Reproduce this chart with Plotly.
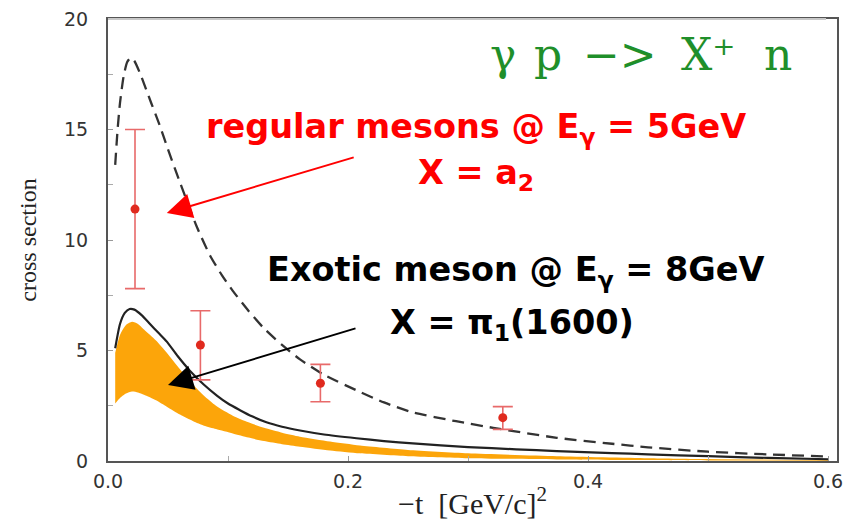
import plotly.graph_objects as go

# ---- data ----
dash_t = [0.006, 0.008, 0.010, 0.013, 0.016, 0.019, 0.022, 0.027, 0.036, 0.043, 0.050,
          0.060, 0.074, 0.085, 0.095, 0.104, 0.117, 0.130, 0.145, 0.160, 0.180,
          0.207, 0.230, 0.254, 0.290, 0.321, 0.374, 0.420, 0.450, 0.500, 0.550, 0.600]
dash_y = [13.4, 15.0, 16.2, 17.4, 18.05, 18.25, 18.1, 17.5, 16.2, 15.2, 14.1,
          12.6, 10.6, 9.3, 8.4, 7.7, 6.8, 6.0, 5.25, 4.6, 3.9,
          3.2, 2.65, 2.2, 1.8, 1.5, 1.05, 0.78, 0.62, 0.42, 0.3, 0.2]

solid_t = [0.006, 0.010, 0.014, 0.018, 0.022, 0.028, 0.035, 0.042, 0.049, 0.058, 0.068,
           0.080, 0.091, 0.100, 0.110, 0.120, 0.132, 0.145, 0.160, 0.180, 0.207,
           0.230, 0.254, 0.300, 0.340, 0.374, 0.420, 0.450, 0.500, 0.550, 0.600]
solid_y = [5.1, 6.2, 6.7, 6.88, 6.85, 6.6, 6.2, 5.8, 5.4, 4.75, 4.1,
           3.45, 2.95, 2.6, 2.3, 2.02, 1.75, 1.55, 1.38, 1.2, 1.03,
           0.9, 0.8, 0.63, 0.53, 0.45, 0.36, 0.3, 0.22, 0.14, 0.08]

band_t = [0.006, 0.010, 0.015, 0.020, 0.025, 0.030, 0.040, 0.049, 0.060, 0.071, 0.080,
          0.090, 0.104, 0.117, 0.130, 0.145, 0.160, 0.185, 0.210, 0.250, 0.300,
          0.374, 0.450, 0.500, 0.600]
band_hi = [4.9, 5.7, 6.15, 6.3, 6.2, 5.95, 5.45, 4.9, 4.15, 3.45, 2.95,
           2.5, 2.05, 1.75, 1.5, 1.28, 1.1, 0.88, 0.7, 0.5, 0.35,
           0.22, 0.13, 0.09, 0.04]
band_lo = [2.6, 2.85, 3.05, 3.14, 3.1, 3.0, 2.75, 2.46, 2.1, 1.8, 1.6,
           1.45, 1.25, 1.06, 0.9, 0.76, 0.65, 0.48, 0.35, 0.22, 0.13,
           0.07, 0.04, 0.025, 0.01]

pt_t = [0.0225, 0.077, 0.177, 0.329]
pt_y = [11.4, 5.25, 3.52, 1.96]
pt_err_plus = [3.6, 1.55, 0.85, 0.5]
pt_err_minus = [3.6, 1.58, 0.84, 0.53]

x_tickvals = [0.0, 0.2, 0.4, 0.6]
x_ticktext = ["0.0", "0.2", "0.4", "0.6"]
y_tickvals = [0, 5, 10, 15, 20]
y_ticktext = ["0", "5", "10", "15", "20"]

# ---- figure ----
fig = go.Figure()

orange = "#fca50a"
fig.add_trace(go.Scatter(x=band_t, y=band_lo, mode="lines", line=dict(width=0, color=orange, shape="spline", smoothing=0.6),
                         hoverinfo="skip", showlegend=False))
fig.add_trace(go.Scatter(x=band_t, y=band_hi, mode="lines", line=dict(width=0, color=orange, shape="spline", smoothing=0.6),
                         fill="tonexty", fillcolor=orange, hoverinfo="skip", showlegend=False))
fig.add_trace(go.Scatter(x=solid_t, y=solid_y, mode="lines",
                         line=dict(color="#222222", width=2.2, shape="spline", smoothing=0.6),
                         showlegend=False))
fig.add_trace(go.Scatter(x=dash_t, y=dash_y, mode="lines",
                         line=dict(color="#333333", width=2.3, dash="12px,7px", shape="spline", smoothing=0.6),
                         showlegend=False))
fig.add_trace(go.Scatter(x=pt_t, y=pt_y, mode="markers",
                         marker=dict(color="#e02a1e", size=9),
                         error_y=dict(type="data", symmetric=False, array=pt_err_plus,
                                      arrayminus=pt_err_minus, color="#e86a6a",
                                      thickness=1.6, width=10),
                         showlegend=False))

L, R, T, B = 108, 15, 19, 67
PW, PH = 852 - L - R, 528 - T - B

def px2x(px):
    return (px - L) / PW

def py2y(py):
    return (528 - B - py) / PH

ann = []
# arrows (data coordinates)
ann.append(dict(x=0.049, y=11.22, ax=0.206, ay=13.76, xref="x", yref="y", axref="x", ayref="y",
                text="", showarrow=True, arrowhead=2, arrowsize=2.5, arrowwidth=2,
                arrowcolor="#ff0000"))
ann.append(dict(x=0.050, y=3.44, ax=0.2075, ay=6.02, xref="x", yref="y", axref="x", ayref="y",
                text="", showarrow=True, arrowhead=2, arrowsize=2.5, arrowwidth=2,
                arrowcolor="#000000"))

bold = dict(family="DejaVu Sans", size=33.5)
ann.append(dict(x=px2x(476), y=py2y(129), xref="paper", yref="paper", showarrow=False,
                xanchor="center", yanchor="middle",
                text="<b>regular mesons @ E<sub>γ</sub> = 5GeV</b>",
                font=dict(bold, color="#ff0000")))
ann.append(dict(x=px2x(476), y=py2y(175), xref="paper", yref="paper", showarrow=False,
                xanchor="center", yanchor="middle",
                text="<b>X = a<sub>2</sub></b>",
                font=dict(bold, color="#ff0000")))
ann.append(dict(x=px2x(516), y=py2y(272), xref="paper", yref="paper", showarrow=False,
                xanchor="center", yanchor="middle",
                text="<b>Exotic meson @ E<sub>γ</sub> = 8GeV</b>",
                font=dict(bold, color="#000000")))
ann.append(dict(x=px2x(512), y=py2y(325), xref="paper", yref="paper", showarrow=False,
                xanchor="center", yanchor="middle",
                text="<b>X = π<sub>1</sub>(1600)</b>",
                font=dict(bold, color="#000000")))

green = dict(family="DejaVu Serif", size=44, color="#1f8f2a")
for tok, cx in [("γ", 503), ("p", 548), ("−>", 620), ("X⁺", 708), ("n", 778)]:
    ann.append(dict(x=px2x(cx), y=py2y(54), xref="paper", yref="paper", showarrow=False,
                    xanchor="center", yanchor="middle", text=tok, font=green))

fig.update_layout(
    width=852, height=528,
    margin=dict(l=L, r=R, t=T, b=B, autoexpand=False),
    paper_bgcolor="white", plot_bgcolor="white",
    annotations=ann,
    shapes=[dict(type="line", xref="paper", yref="paper", x0=0, x1=0.985, y0=1, y1=1,
                 line=dict(color="#c8c8c8", width=2), layer="above")],
    xaxis=dict(range=[0, 0.6075], tickvals=x_tickvals, ticktext=x_ticktext, automargin=False,
               showgrid=False, zeroline=False, showline=True, linecolor="#555555", linewidth=2,
               mirror=True, ticks="inside", ticklen=5, tickcolor="#999999",
               minor=dict(dtick=0.1, ticks="inside", ticklen=5, tickcolor="#aaaaaa"),
               tickfont=dict(family="DejaVu Sans", size=19, color="#333333"),
               ticklabelstandoff=2,
               title=dict(text="−t  [GeV/c]<sup>2</sup>",
                          font=dict(family="Liberation Serif", size=30, color="#222222"),
                          standoff=2)),
    yaxis=dict(range=[0, 20], tickvals=y_tickvals, ticktext=y_ticktext, automargin=False,
               showgrid=False, zeroline=False, showline=True, linecolor="#555555", linewidth=2,
               mirror=True, ticks="inside", ticklen=5, tickcolor="#999999",
               minor=dict(dtick=2.5, ticks="inside", ticklen=5, tickcolor="#aaaaaa"),
               tickfont=dict(family="DejaVu Sans", size=19, color="#333333"),
               ticklabelstandoff=14,
               title=dict(text="cross section",
                          font=dict(family="Liberation Serif", size=24, color="#222222"),
                          standoff=21)),
)

fig.write_html("out.html", config={"displayModeBar": False},
               post_script="document.body.style.margin='0';document.body.style.overflow='hidden';")
